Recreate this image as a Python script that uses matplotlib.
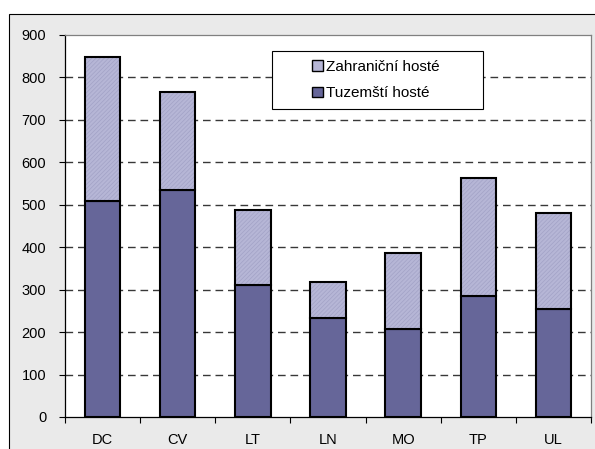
import matplotlib.pyplot as plt
from matplotlib.patches import Rectangle, Patch

# regions and guests (thousands)
regions = ["DC", "CV", "LT", "LN", "MO", "TP", "UL"]
domestic = [510, 534, 310, 234, 208, 284, 254]
foreign = [338, 232, 178, 84, 179, 278, 227]

label_foreign = "Zahraniční hosté"
label_domestic = "Tuzemští hosté"

dark = "#666699"
light = "#b6b6d6"
hatch_col = "#a2a2c6"

plt.rcParams["font.family"] = ["Liberation Sans", "DejaVu Sans"]
plt.rcParams["hatch.linewidth"] = 0.5

W, H = 595, 449
fig = plt.figure(figsize=(W / 100, H / 100), dpi=100)

# grey chart-area frame
fig.patches.append(Rectangle((9 / W, -0.1), 1.2, 1 - 14 / H + 0.1,
                             transform=fig.transFigure, facecolor="#eaeaea",
                             edgecolor="black", linewidth=0.8, zorder=-1))

ax = fig.add_axes([65 / W, 1 - 417 / H, (591 - 65) / W, (417 - 35) / H])
ax.set_facecolor("white")

x = range(len(regions))
w = 0.47
ax.bar(x, domestic, width=w, color=dark, edgecolor="black", linewidth=1.5, zorder=3)
ax.bar(x, foreign, width=w, bottom=domestic, color=light, hatch="////////",
       edgecolor=hatch_col, linewidth=0, zorder=3)
ax.bar(x, foreign, width=w, bottom=domestic, facecolor="none",
       edgecolor="black", linewidth=1.5, zorder=4)

ax.set_xlim(-0.5, len(regions) - 0.5)
ax.set_ylim(0, 900)
ax.set_yticks(range(0, 901, 100))
for v in range(100, 900, 100):
    ax.axhline(v, color="#383838", linewidth=1.0, linestyle=(0, (5.5, 3.5)), zorder=1)

ax.set_xticks(list(x))
ax.set_xticklabels(regions)
ax.set_xticks([i - 0.5 for i in range(len(regions) + 1)], minor=True)
ax.tick_params(axis="x", which="major", length=0, pad=11.5, labelsize=10.5)
ax.tick_params(axis="x", which="minor", length=4.5, width=0.8, direction="out")
ax.tick_params(axis="y", length=4.5, width=0.8, direction="out", pad=9, labelsize=10.5)

for side in ("left", "bottom"):
    ax.spines[side].set_color("black")
    ax.spines[side].set_linewidth(0.9)
for side in ("top", "right"):
    ax.spines[side].set_color("#808080")
    ax.spines[side].set_linewidth(0.9)

# legend box
ax.add_patch(Rectangle(((272 - 65) / 526, (417 - 109) / 382), 211 / 526, 58 / 382,
                       transform=ax.transAxes, facecolor="white",
                       edgecolor="black", linewidth=0.8, zorder=5))
handles = [Patch(facecolor=light, edgecolor="black", linewidth=1.0),
           Patch(facecolor=dark, edgecolor="black", linewidth=1.0)]
leg = ax.legend(handles, [label_foreign, label_domestic], frameon=False,
                loc="center", bbox_to_anchor=((376 - 65) / 526, (417 - 80) / 382),
                fontsize=11, handlelength=0.7, handleheight=0.7,
                handletextpad=0.2, labelspacing=0.85)
leg.set_zorder(6)

fig.savefig("out.png", dpi=100)
